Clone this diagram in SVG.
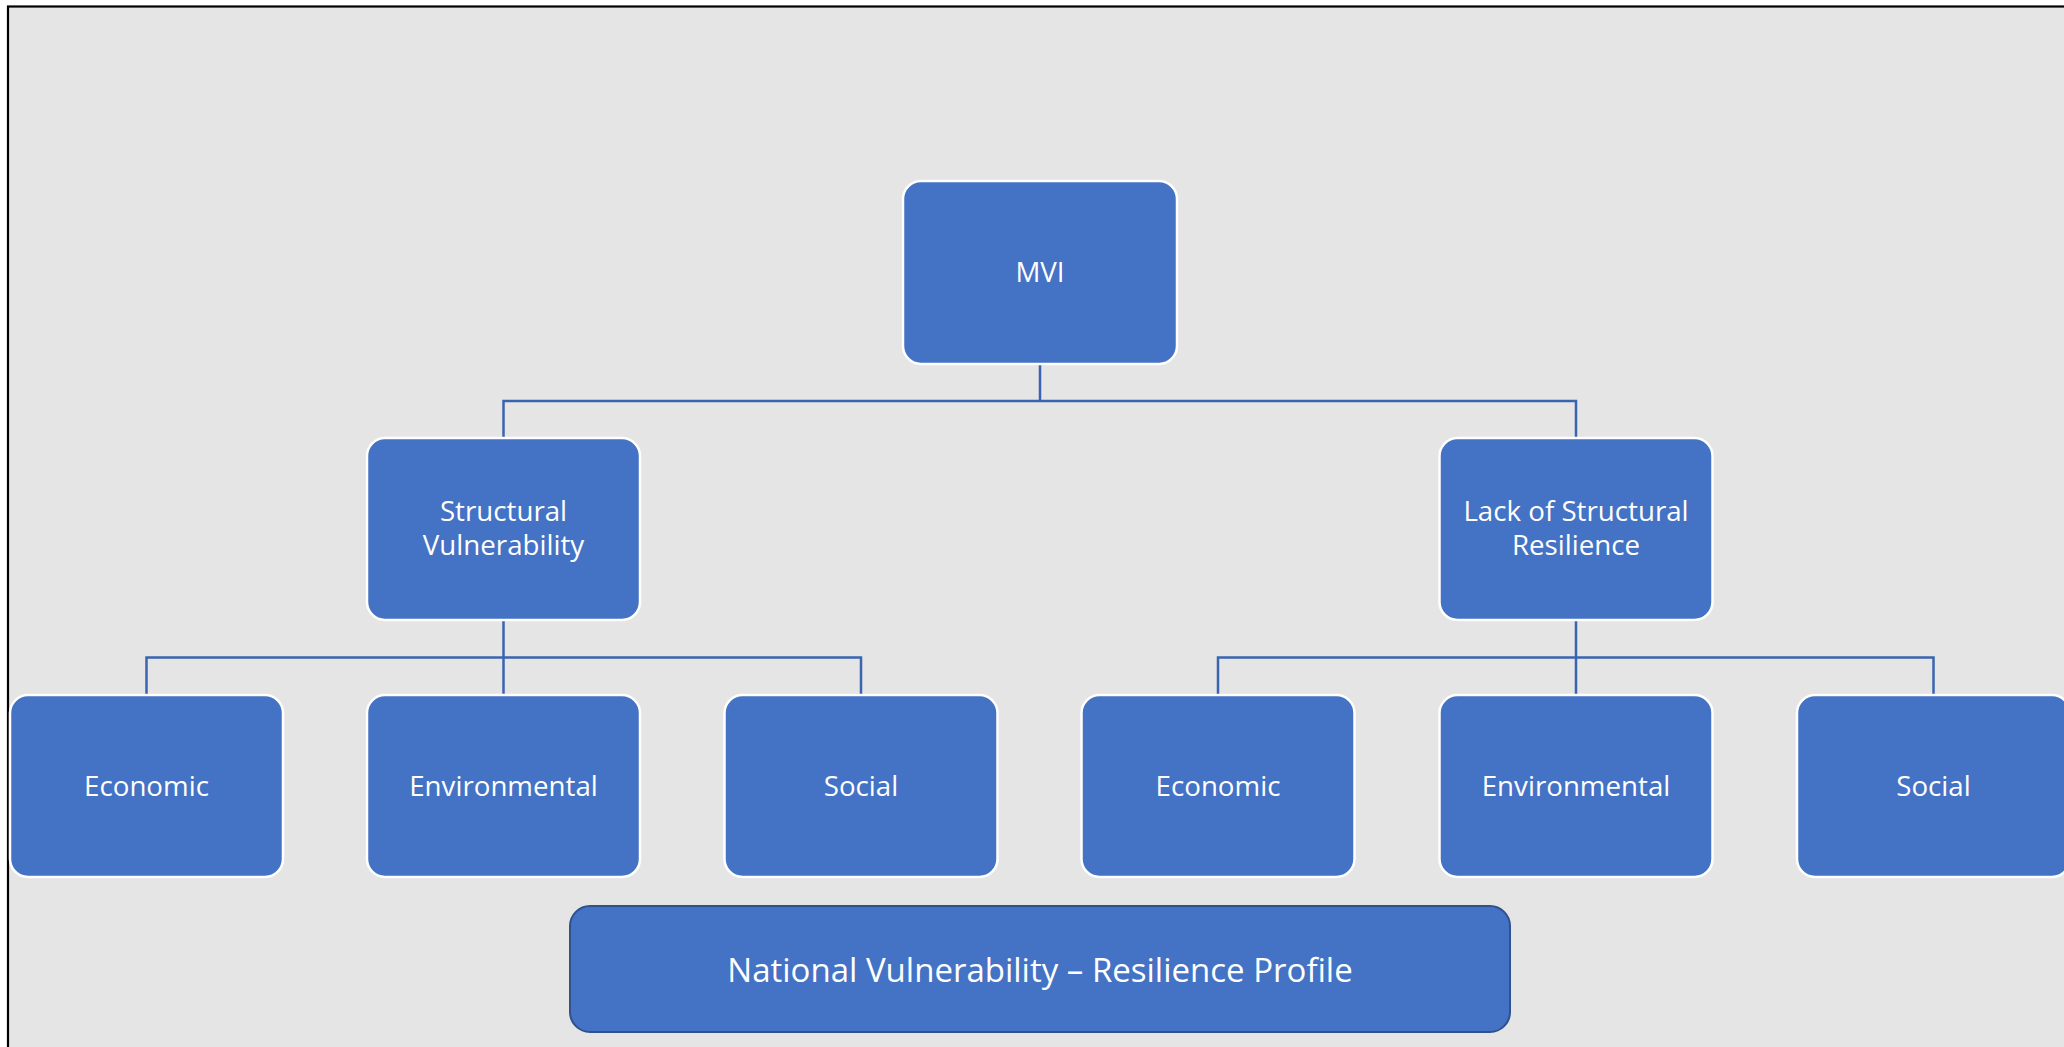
<svg xmlns="http://www.w3.org/2000/svg" width="2064" height="1047" viewBox="0 0 2064 1047">
<style>
.node{fill:#4472C4;stroke:#FFFFFF;stroke-width:2.5}
.base{fill:#4472C4;stroke:#2F528F;stroke-width:2}
.lbl{font-family:"Open Sans","Liberation Sans",sans-serif;font-size:27.7px;fill:#FFFFFF;text-anchor:middle}
.big{font-size:33px}
.conn{fill:none;stroke:#3A64B0;stroke-width:2.5}
</style>
<rect x="0" y="0" width="2064" height="1047" fill="#FFFFFF"/>
<rect x="8" y="6.5" width="2080" height="1060" fill="#E5E5E5" stroke="#000000" stroke-width="2.2"/>
<g id="connectors">
<path class="conn" d="M1040 364 V401 M503.5 438 V401 H1576 V438"/>
<path class="conn" d="M503.5 620 V657.5 M146.5 695 V657.5 H861 V695 M503.5 657.5 V695"/>
<path class="conn" d="M1576 620 V657.5 M1218 695 V657.5 H1933.5 V695 M1576 657.5 V695"/>
</g>
<g id="mvi">
<rect class="node" x="903" y="181" width="274" height="183" rx="18"/>
<text class="lbl" x="1040" y="282">MVI</text>
</g>
<g id="structural-vulnerability">
<rect class="node" x="367" y="438" width="273" height="182" rx="18"/>
<text class="lbl" x="503.5" y="520.5">Structural</text>
<text class="lbl" x="503.5" y="554.5">Vulnerability</text>
</g>
<g id="lack-of-structural-resilience">
<rect class="node" x="1439.5" y="438" width="273" height="182" rx="18"/>
<text class="lbl" x="1576" y="520.5">Lack of Structural</text>
<text class="lbl" x="1576" y="554.5">Resilience</text>
</g>
<g id="sv-economic">
<rect class="node" x="10" y="695" width="273" height="182" rx="18"/>
<text class="lbl" x="146.5" y="795.5">Economic</text>
</g>
<g id="sv-environmental">
<rect class="node" x="367" y="695" width="273" height="182" rx="18"/>
<text class="lbl" x="503.5" y="795.5">Environmental</text>
</g>
<g id="sv-social">
<rect class="node" x="724.5" y="695" width="273" height="182" rx="18"/>
<text class="lbl" x="861" y="795.5">Social</text>
</g>
<g id="lsr-economic">
<rect class="node" x="1081.5" y="695" width="273" height="182" rx="18"/>
<text class="lbl" x="1218" y="795.5">Economic</text>
</g>
<g id="lsr-environmental">
<rect class="node" x="1439.5" y="695" width="273" height="182" rx="18"/>
<text class="lbl" x="1576" y="795.5">Environmental</text>
</g>
<g id="lsr-social">
<rect class="node" x="1797" y="695" width="273" height="182" rx="18"/>
<text class="lbl" x="1933.5" y="795.5">Social</text>
</g>
<g id="profile">
<rect class="base" x="570" y="906" width="940" height="126" rx="20"/>
<text class="lbl big" x="1040" y="981.5">National Vulnerability – Resilience Profile</text>
</g>
</svg>
